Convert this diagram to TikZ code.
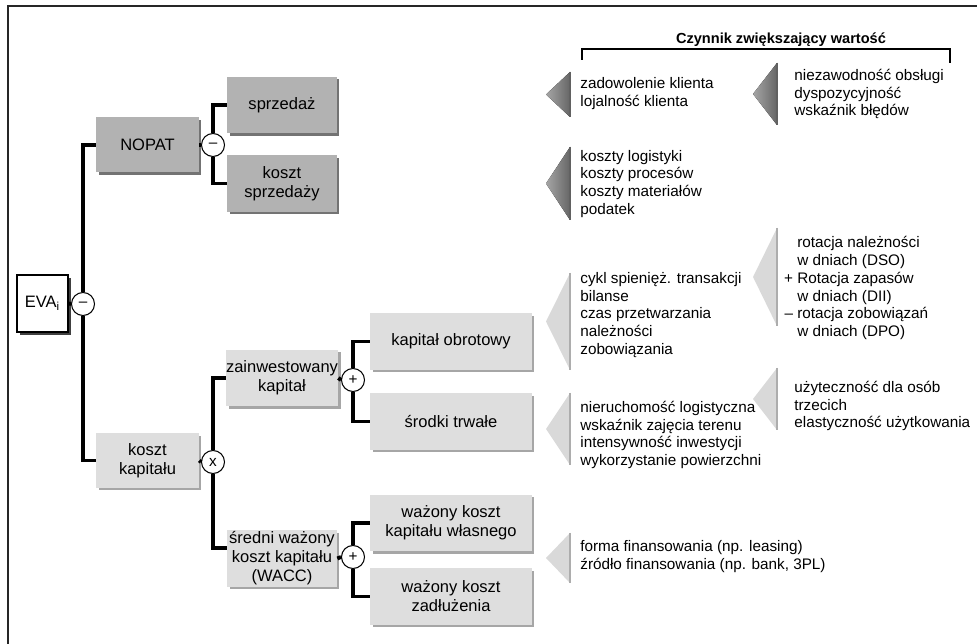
\documentclass[tikz,border=0pt]{standalone}
\usepackage{fontspec}
\setmainfont{Liberation Sans}
\usepackage{tikz}
\usetikzlibrary{positioning}
\usetikzlibrary{shadows}
\colorlet{boxdark}{black!30}
\colorlet{boxlight}{black!13}
\tikzset{
  conn/.style={line width=2.2pt, line join=miter},
  basebox/.style={align=center, inner sep=0pt, font=\fontsize{9.4}{10.8}\selectfont},
  darkbox/.style={basebox, fill=boxdark,
    drop shadow={shadow xshift=0.05cm, shadow yshift=-0.05cm, fill=black!55, opacity=1}},
  lightbox/.style={basebox, fill=boxlight,
    drop shadow={shadow xshift=0.05cm, shadow yshift=-0.05cm, fill=black!35, opacity=1}},
  smallbox/.style={minimum width=2.06cm, minimum height=1.1cm},
  midbox/.style={minimum width=2.2cm, minimum height=1.13cm},
  widebox/.style={minimum width=3.24cm, minimum height=1.13cm},
  opcirc/.style={circle, draw, line width=0.6pt, fill=white, minimum size=0.46cm, inner sep=0pt},
  txt/.style={align=left, inner sep=0pt},
  darktri/.style={left color=black!35, right color=black!60},
  lighttri/.style={fill=black!15},
  darkedge/.style={draw=black!62, line width=1.2pt},
  lightedge/.style={draw=black!32, line width=1.2pt}
}

\begin{document}
\begin{tikzpicture}[x=0.02cm, y=-0.02cm, font=\fontsize{8.7}{10.2}\selectfont]
\useasboundingbox (0,0) rectangle (977,644);

% ---------------- Frame ----------------
\draw[line width=1.1pt, black!85] (8,644) |- (977,6);

% ---------------- Tree ----------------
\node[basebox, draw, line width=0.6pt, fill=white, minimum width=1.02cm, minimum height=1.14cm,
  drop shadow={shadow xshift=0.06cm, shadow yshift=-0.06cm, fill=black!75, opacity=1}]
  (eva) at (42.5,303.5) {EVA\textsubscript{i}};
\node[opcirc] (op1) at (83,304) {–};

\node[darkbox, smallbox] (nopat) at (147.5,145) {NOPAT};
\node[lightbox, smallbox] (kk) at (147.5,460.5) {koszt\\kapitału};

\node[opcirc] (op2) at (213,145) {–};
\node[darkbox, midbox] (sprz) at (282,105) {sprzedaż};
\node[darkbox, midbox] (ksprz) at (282,183.5) {koszt\\sprzedaży};

\node[opcirc] (op3) at (213,462) {x};
\node[lightbox, midbox] (zk) at (282,378) {zainwestowany\\kapitał};
\node[lightbox, midbox] (wacc) at (282,558.5) {średni ważony\\koszt kapitału\\(WACC)};

\node[opcirc] (op4) at (353,380) {+};
\node[lightbox, widebox] (ko) at (451,341.5) {kapitał obrotowy};
\node[lightbox, widebox] (st) at (451,421.5) {środki trwałe};

\node[opcirc] (op5) at (353,557) {+};
\node[lightbox, widebox] (wk) at (451,523) {ważony koszt\\kapitału własnego};
\node[lightbox, widebox] (wz) at (451,596.5) {ważony koszt\\zadłużenia};

% connectors
\draw[conn] (eva.east) -- (op1.west);
\draw[conn] (op1.north) |- (nopat.west);
\draw[conn] (op1.south) |- (kk.west);

\draw[conn] (nopat.east) -- (op2.west);
\draw[conn] (op2.north) |- (sprz.west);
\draw[conn] (op2.south) |- (ksprz.west);

\draw[conn] (kk.east) -- (op3.west);
\draw[conn] (op3.north) |- (zk.west);
\draw[conn] (op3.south) |- ([yshift=0.21cm]wacc.west);

\draw[conn] (zk.east) -- (op4.west);
\draw[conn] (op4.north) |- (ko.west);
\draw[conn] (op4.south) |- (st.west);

\draw[conn] (wacc.east) -- (op5.west);
\draw[conn] (op5.north) |- (wk.west);
\draw[conn] (op5.south) |- (wz.west);

% ---------- Pointer function ----------
% right x, top y, bottom y, style
\def\arrowtri#1#2#3#4{
  \fill[#4tri] (#1,#2) -- (#1-24,{(#2+#3)/2}) -- (#1,#3) -- cycle;
  \draw[#4edge] (#1,#2) -- (#1,#3);
}

\arrowtri{570}{72}{117}{dark}
\arrowtri{570}{147}{220}{dark}
\arrowtri{570}{273}{370}{light}
\arrowtri{570}{393}{465}{light}
\arrowtri{570}{533}{583}{light}
\arrowtri{777}{63}{125}{dark}
\arrowtri{777}{228}{326}{light}
\arrowtri{777}{368}{430}{light}

% ---------------- Header ----------------
\node[font=\fontsize{8.3}{10}\selectfont\bfseries] (head) at (781,40) {Czynnik zwiększający wartość};
\draw[line width=0.6pt] (582,60) |- (950,49) -- (950,63);

% ---------------- Value drivers ----------------
\node[txt, anchor=west] (d1) at (580,94) {zadowolenie klienta\\lojalność klienta};
\node[txt, anchor=west] (d2) at (580,184) {koszty logistyki\\koszty procesów\\koszty materiałów\\podatek};
\node[txt, anchor=west] (d3) at (580,315) {cykl spienięż. transakcji\\bilanse\\czas przetwarzania\\należności\\zobowiązania};
\node[txt, anchor=west] (d4) at (580,435) {nieruchomość logistyczna\\wskaźnik zajęcia terenu\\intensywność inwestycji\\wykorzystanie powierzchni};
\node[txt, anchor=west] (d5) at (580,557) {forma finansowania (np. leasing)\\źródło finansowania (np. bank, 3PL)};

\node[txt, anchor=west] (e1) at (794,94) {niezawodność obsługi\\dyspozycyjność\\wskaźnik błędów};
\node[txt, anchor=west] (e2) at (797,288) {rotacja należności\\w dniach (DSO)\\\llap{+ }Rotacja zapasów\\w dniach (DII)\\\llap{– }rotacja zobowiązań\\w dniach (DPO)};
\node[txt, anchor=west] (e3) at (794,406) {użyteczność dla osób\\trzecich\\elastyczność użytkowania};

\end{tikzpicture}
\end{document}
